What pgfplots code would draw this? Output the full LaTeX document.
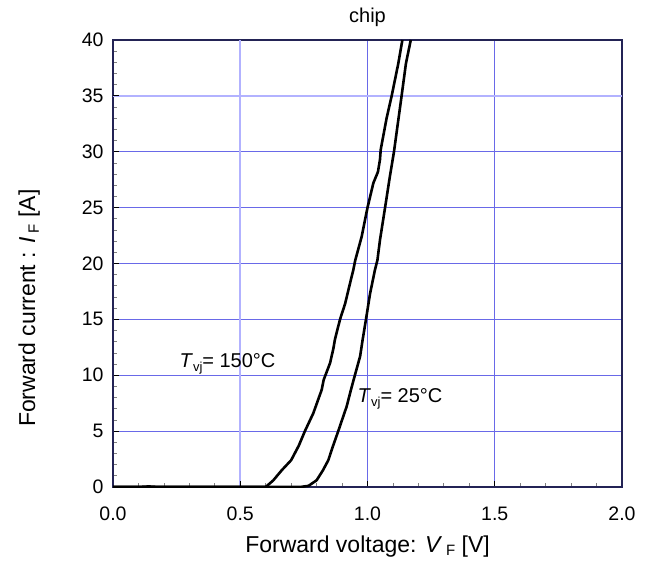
\documentclass[border=0pt]{standalone}
\usepackage{fontspec}
\setmainfont{Liberation Sans}
\usepackage{pgfplots}
\pgfplotsset{compat=1.18}
\usetikzlibrary{calc}
\definecolor{gridblue}{RGB}{105,105,232}
\definecolor{lightblue}{RGB}{178,178,255}
\definecolor{framenavy}{RGB}{35,35,85}
\newcommand\sub[1]{\raisebox{-0.35ex}{\fontsize{13}{13}\selectfont #1}}
\newcommand\subL[1]{\raisebox{-0.3ex}{\fontsize{15}{15}\selectfont #1}}
\begin{document}
\begin{tikzpicture}
\begin{axis}[
  scale only axis,
  width=509pt, height=447pt,
  xmin=0, xmax=2, ymin=0, ymax=40,
  xtick={0,1,1.5,2},
  xticklabels={0.0,1.0,1.5,2.0},
  extra x ticks={0.5},
  extra x tick labels={0.5},
  extra x tick style={grid style={lightblue, line width=2pt}},
  ytick={0,5,10,15,20,25,30,40},
  extra y ticks={35},
  extra y tick style={grid style={lightblue, line width=2pt}},
  minor xtick={0.1,0.2,0.3,0.4,0.6,0.7,0.8,0.9,1.1,1.2,1.3,1.4,1.6,1.7,1.8,1.9},
  minor ytick={1,2,3,4,6,7,8,9,11,12,13,14,16,17,18,19,21,22,23,24,26,27,28,29,31,32,33,34,36,37,38,39},
  xmajorgrids, ymajorgrids,
  grid style={gridblue, line width=0.8pt},
  tick pos=left,
  tick align=inside,
  major tick length=6pt,
  minor tick length=4pt,
  major tick style={black, line width=0.8pt},
  minor tick style={gray, line width=0.8pt},
  axis line style={framenavy, line width=1.2pt},
  /pgf/number format/assume math mode=true,
  tick label style={font=\fontsize{19.5}{21}\selectfont},
  xticklabel style={anchor=base, yshift=-33pt},
  yticklabel style={anchor=east, xshift=-6pt},
  every axis x label/.style={at={(axis description cs:0.5,-0.1454)}, anchor=base},
  every axis y label/.style={at={(axis description cs:-0.153,0.40)}, rotate=90, anchor=base},
  xlabel={\fontsize{23}{25}\selectfont Forward voltage: \textit{V}\,\subL{F} [V]},
  ylabel={\fontsize{23}{25}\selectfont Forward current : \textit{I}\,\subL{F} [A]},
  title={\fontsize{20}{22}\selectfont chip},
  every axis title/.style={at={(axis description cs:0.5,1)}, anchor=base, yshift=17pt},
]
% Tvj = 150 C
\addplot[black, line width=2.6pt, line join=round] coordinates {
(0,0) (0.10,0) (0.14,0.05) (0.18,0) (0.60,0) (0.63,0.6) (0.663,1.5) (0.70,2.4) (0.73,3.7)
(0.754,5) (0.787,6.6) (0.82,8.7) (0.828,9.6) (0.853,11.1) (0.866,12.4) (0.872,13.2)
(0.892,15) (0.912,16.4) (0.931,18.2) (0.944,19.4) (0.952,20.3) (0.977,22.4)
(1.0,25) (1.023,27.2) (1.041,28.2) (1.049,29.3) (1.052,30.2) (1.075,33) (1.095,35)
(1.121,37.9) (1.137,40)
};
% Tvj = 25 C
\addplot[black, line width=2.6pt, line join=round] coordinates {
(0,0) (0.735,0) (0.768,0.1) (0.80,0.6) (0.825,1.5) (0.846,2.4) (0.865,3.7)
(0.885,5) (0.918,7.2) (0.935,8.7) (0.948,9.8) (0.971,11.7) (0.981,13.2)
(0.994,15) (1.01,17.3) (1.029,19.4) (1.039,20.3) (1.049,22.1) (1.069,25)
(1.088,27.8) (1.104,30) (1.134,35) (1.151,37.9) (1.17,40)
};
\node[anchor=base, font=\fontsize{20}{22}\selectfont] at (axis cs:0.45,10.65) {\textit{T}\sub{vj}= 150°C};
\node[anchor=base, font=\fontsize{20}{22}\selectfont] at (axis cs:1.128,7.54) {\textit{T}\sub{vj}= 25°C};
\end{axis}
\pgfresetboundingbox
\useasboundingbox ($(current axis.south west)+(-113pt,-75pt)$) rectangle ($(current axis.north east)+(27pt,40pt)$);
\end{tikzpicture}
\end{document}
